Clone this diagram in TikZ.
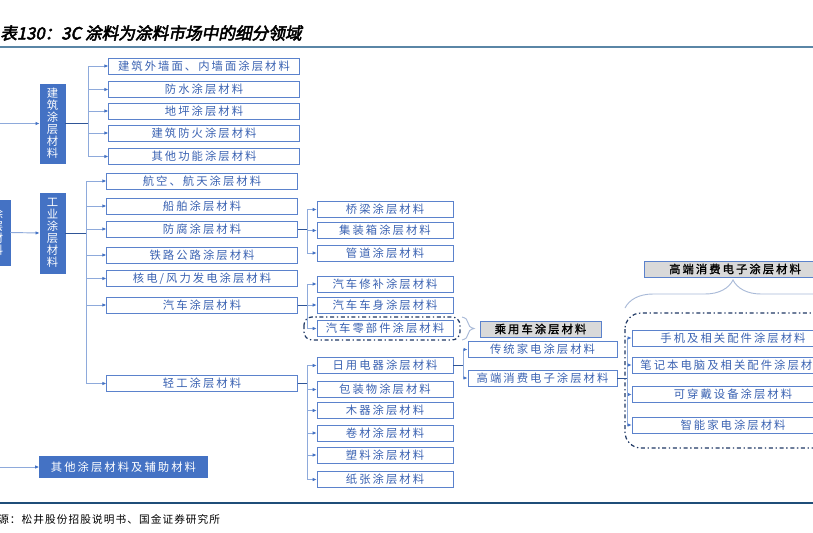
\documentclass[tikz,border=0pt]{standalone}
\usepackage{fontspec}
\usetikzlibrary{arrows.meta,decorations.pathreplacing}
\setmainfont{Noto Sans CJK SC}
\newfontfamily\cjk[LetterSpace=18]{Noto Sans CJK SC}
\newfontfamily\cjkbold[LetterSpace=18,FakeBold=1.5]{Noto Sans CJK SC}
\newfontfamily\cjkplain{Noto Sans CJK SC}
\newfontfamily\cjktitle[FakeSlant=0.2,FakeBold=3]{Noto Sans CJK SC}
\newfontfamily\cjksrc[LetterSpace=10]{Noto Sans CJK SC}
\definecolor{catblue}{HTML}{4472C4}
\definecolor{boxblue}{HTML}{5B82CC}
\definecolor{txtblue}{HTML}{3A62B2}
\definecolor{linblue}{HTML}{8EAADB}
\definecolor{stmblue}{HTML}{2F5597}
\definecolor{frmblue}{HTML}{1F3864}
\definecolor{grfill}{HTML}{D9D9D9}
\definecolor{brgrey}{HTML}{A9BAD8}
\definecolor{topline}{HTML}{5A86A6}
\definecolor{botline}{HTML}{1F4E79}
\tikzset{
  catbox/.style={draw=catblue, fill=catblue, text=white, inner sep=0pt,
    align=center, font=\cjkplain\fontsize{8.5}{9}\selectfont},
  itembox/.style={draw=boxblue, fill=white, text=txtblue, inner sep=0pt,
    minimum height=12pt, font=\cjk\fontsize{8.5}{10}\selectfont},
  greybox/.style={draw=boxblue, fill=grfill, text=black, inner sep=0pt,
    minimum height=12pt, font=\cjkbold\fontsize{8.5}{10}\selectfont},
  stem/.style={draw=stmblue, line width=0.7pt},
  branch/.style={draw=linblue, line width=0.7pt, -{Latex[length=3pt,width=2.6pt,color=catblue]}},
  frame/.style={draw=frmblue, line width=0.9pt, dash pattern=on 3pt off 2pt on 1pt off 2pt},
  curly/.style={draw=brgrey, line width=0.7pt, decorate, decoration={brace,amplitude=#1}},
}
\begin{document}
\begin{tikzpicture}[x=0.75pt, y=-0.75pt]
  \useasboundingbox (0,0) rectangle (813,532);
  \fill[white] (0,0) rectangle (813,532);
  \clip (0,0) rectangle (813,532);

  % title and rules
  \node[anchor=west, inner sep=0pt, font=\cjktitle\fontsize{12.5}{14}\selectfont] (title) at (0,33) {表130：3C 涂料为涂料市场中的细分领域};
  \draw[topline, line width=2.2pt] (0,47) -- (813,47);
  \draw[botline, line width=1.5pt] (0,503) -- (813,503);
  \node[anchor=west, inner sep=0pt, font=\cjksrc\fontsize{8}{10}\selectfont] (src) at (-2,519) {源：松井股份招股说明书、国金证券研究所};

  % left column
  \node[catbox, minimum width=19pt, minimum height=49pt] (root) at (-2.5,232.5) {涂\\层\\材\\料};
  \node[catbox, minimum width=19pt, minimum height=59pt] (jz) at (52.5,123.5) {建\\筑\\涂\\层\\材\\料};
  \node[catbox, minimum width=19pt, minimum height=60pt] (gy) at (52.5,233) {工\\业\\涂\\层\\材\\料};
  \node[catbox, minimum width=126pt, minimum height=16pt, font=\cjk\fontsize{8.5}{10}\selectfont] (qt) at (123.5,467) {其他涂层材料及辅助材料};

  % building coatings
  \node[itembox, minimum width=143pt] (a1) at (204,66) {建筑外墙面、内墙面涂层材料};
  \node[itembox, minimum width=143pt] (a2) at (204,89.5) {防水涂层材料};
  \node[itembox, minimum width=143pt] (a3) at (204,111) {地坪涂层材料};
  \node[itembox, minimum width=143pt] (a4) at (204,133) {建筑防火涂层材料};
  \node[itembox, minimum width=143pt] (a5) at (204,156.5) {其他功能涂层材料};

  % industrial coatings
  \node[itembox, minimum width=143pt] (b1) at (202,181) {航空、航天涂层材料};
  \node[itembox, minimum width=143pt] (b2) at (202,206) {船舶涂层材料};
  \node[itembox, minimum width=143pt] (b3) at (202,229) {防腐涂层材料};
  \node[itembox, minimum width=143pt] (b4) at (202,255) {铁路公路涂层材料};
  \node[itembox, minimum width=143pt] (b5) at (202,278.5) {核电/风力发电涂层材料};
  \node[itembox, minimum width=143pt] (b6) at (202,305) {汽车涂层材料};
  \node[itembox, minimum width=143pt] (b7) at (202,383.5) {轻工涂层材料};

  \node[itembox, minimum width=102pt] (c1) at (385,209.5) {桥梁涂层材料};
  \node[itembox, minimum width=102pt] (c2) at (385,230.5) {集装箱涂层材料};
  \node[itembox, minimum width=102pt] (c3) at (385,253) {管道涂层材料};

  \node[itembox, minimum width=102pt] (d1) at (385,284) {汽车修补涂层材料};
  \node[itembox, minimum width=102pt] (d2) at (385,305) {汽车车身涂层材料};
  \node[itembox, minimum width=102pt] (d3) at (385,328.5) {汽车零部件涂层材料};

  \node[itembox, minimum width=102pt] (e1) at (385,365.5) {日用电器涂层材料};
  \node[itembox, minimum width=102pt] (e2) at (385,389.5) {包装物涂层材料};
  \node[itembox, minimum width=102pt] (e3) at (385,410.5) {木器涂层材料};
  \node[itembox, minimum width=102pt] (e4) at (385,433) {卷材涂层材料};
  \node[itembox, minimum width=102pt] (e5) at (385,455) {塑料涂层材料};
  \node[itembox, minimum width=102pt] (e6) at (385,479.5) {纸张涂层材料};

  \node[itembox, minimum width=112pt] (f1) at (542.5,349.5) {传统家电涂层材料};
  \node[itembox, minimum width=112pt] (f2) at (542.5,378) {高端消费电子涂层材料};

  \node[greybox, minimum width=91pt] (pc) at (540.5,329) {乘用车涂层材料};
  \node[greybox, minimum width=136.5pt] (hd) at (735,269) {高端消费电子涂层材料};

  \node[itembox, minimum width=151.5pt] (g1) at (733,338) {手机及相关配件涂层材料};
  \node[itembox, minimum width=151.5pt] (g2) at (733,365) {笔记本电脑及相关配件涂层材料};
  \node[itembox, minimum width=151.5pt] (g3) at (733,394.5) {可穿戴设备涂层材料};
  \node[itembox, minimum width=151.5pt] (g4) at (733,425) {智能家电涂层材料};

  % groups and braces
  \draw[frame, rounded corners=6pt] (304,317) rectangle (460,340);
  \draw[frame, rounded corners=12pt] (625,313) rectangle (850,448);
  \draw[curly=9pt] (462,317) -- (462,340);
  \draw[curly=21pt] (625,308) -- (841,308);

  % connectors
  \coordinate (offl) at (-12,0);
  \draw[branch] (jz.west -| offl) -- (jz.west);
  \draw[branch] (qt.west -| offl) -- (qt.west);
  \draw[branch] (root.east) -- (gy.west);

  \path (jz.east) ++(23,0) coordinate (jzb);
  \draw[stem] (jz.east) -- (jzb);
  \foreach \i in {1,...,5} \draw[branch] (jzb) |- (a\i.west);

  \path (gy.east) ++(21,0) coordinate (gyb);
  \draw[stem] (gy.east) -- (gyb);
  \foreach \i in {1,...,7} \draw[branch] (gyb) |- (b\i.west);

  \path (b3.east) ++(10,0) coordinate (b3b);
  \draw[stem] (b3.east) -- (b3b);
  \foreach \i in {1,2,3} \draw[branch] (b3b) |- (c\i.west);

  \path (b6.east) ++(10,0) coordinate (b6b);
  \draw[stem] (b6.east) -- (b6b);
  \foreach \i in {1,2,3} \draw[branch] (b6b) |- (d\i.west);

  \path (b7.east) ++(10,0) coordinate (b7b);
  \draw[stem] (b7.east) -- (b7b);
  \foreach \i in {1,...,6} \draw[branch] (b7b) |- (e\i.west);

  \path (e1.east) ++(10,0) coordinate (e1b);
  \draw[stem] (e1.east) -- (e1b);
  \foreach \i in {1,2} \draw[branch] (e1b) |- (f\i.west);

  \path (f2.east) ++(10,0) coordinate (f2b);
  \draw[stem] (f2.east) -- (f2b);
  \foreach \i in {1,...,4} \draw[branch] (f2b) |- (g\i.west);
\end{tikzpicture}
\end{document}
